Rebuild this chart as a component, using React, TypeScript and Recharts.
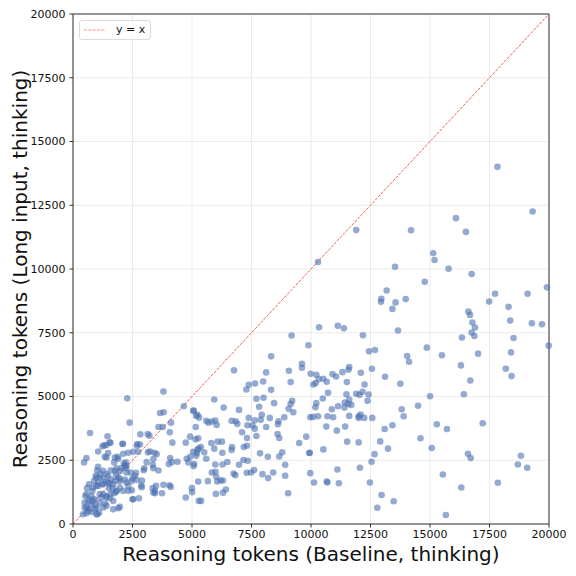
import {
  ScatterChart, Scatter, ReferenceLine, XAxis, YAxis, CartesianGrid, Legend,
} from 'recharts'

// [baseline tokens, long-input tokens], grouped by region
const lowCluster: [number, number][] = [
  [3800, 5195], [2280, 4930], [4655, 4620], [5050, 4435], [5230, 4280], [5300, 4170], [3660, 4355], [3810, 4380],
  [2380, 3975], [3590, 3805], [3770, 3805], [4120, 3975], [715, 3570], [1450, 3440], [2830, 3515], [3140, 3530],
  [3210, 3465], [4065, 3595], [4920, 3425], [4740, 3190], [5260, 3360], [1535, 3190], [1310, 3085], [2095, 3150],
  [2685, 3070], [2815, 3120], [3150, 2810], [3235, 2845], [3420, 2795], [4175, 3190], [1055, 2845], [1475, 2780],
  [1335, 2640], [2110, 2755], [2320, 2795], [2530, 2835], [2745, 2835], [1760, 2610], [1900, 2560], [565, 2585],
  [465, 2415], [4080, 2585], [4150, 2425], [4025, 2350], [3375, 2545], [3095, 2425], [3350, 2320], [3375, 2190],
  [3590, 2100], [4390, 2440], [4850, 2415], [2140, 2375], [2250, 2270], [2220, 2190], [2040, 2190], [1970, 2075],
  [1760, 2085], [1590, 2110], [1055, 2245], [1015, 2110], [1155, 1980], [985, 1825], [1265, 1795], [1475, 1890],
  [1590, 1745], [1800, 1930], [1900, 1825], [2250, 2020], [2420, 2020], [2645, 2005], [2505, 1785], [2670, 1730],
  [2970, 2110], [2995, 2180], [2895, 1705], [2870, 1510], [2885, 1445], [2250, 1625], [2320, 1495], [2475, 1325],
  [2505, 970], [1970, 670], [1900, 615], [1690, 905], [1730, 1205], [1520, 1405], [1660, 1405], [1405, 1100],
  [1350, 800], [1265, 1170], [1125, 1170], [985, 1495], [590, 1405], [815, 1300], [520, 1100], [705, 970],
  [845, 905], [930, 750], [985, 645], [660, 590], [775, 470], [1025, 380], [1095, 445], [565, 645],
  [490, 840], [885, 1690], [1055, 1625], [1240, 1560], [1380, 1665], [1520, 1585], [1760, 1690], [1970, 1680],
  [2180, 1745], [2460, 1690], [1970, 1430], [1830, 1270], [1545, 1010], [1125, 840], [1690, 575], [3350, 1405],
  [3445, 1300], [3800, 1535], [4050, 1520], [4105, 1455], [3740, 1205], [3445, 1205], [4740, 1035], [4995, 1405],
  [5385, 905], [5205, 2780], [4925, 2635], [5230, 2915], [1405, 3095], [1240, 3045], [1575, 3190], [2080, 3135],
  [1405, 2610], [1870, 2635], [1730, 2415], [2220, 2415], [1265, 2085], [955, 1890], [1125, 1825], [1405, 1955],
  [1830, 2180], [2180, 2285], [2600, 1890], [675, 1560], [845, 1430], [1055, 1495], [1265, 1560], [1475, 1625],
  [1690, 1560], [1970, 1760], [1830, 1300], [2110, 1300], [2320, 1300], [565, 1170], [775, 1100], [915, 970],
  [1195, 1035], [1405, 1035], [1575, 1170], [2530, 970], [2770, 1010], [490, 645], [635, 510], [915, 575],
  [985, 380], [1265, 645], [1405, 710], [420, 380], [3515, 2740], [3375, 1235], [3490, 1495], [2700, 3135],
  [560, 420], [760, 760], [640, 880],
]

const midRange: [number, number][] = [
  [9185, 7390], [9890, 7010], [8325, 6575], [6765, 6025], [8115, 5945], [9070, 6010], [7990, 5590], [9145, 5565],
  [7650, 5510], [7385, 5460], [7285, 5275], [8325, 5265], [7705, 4910], [8005, 4950], [5935, 4880], [8450, 4740],
  [7820, 4595], [9210, 4830], [9145, 4710], [9060, 4515], [9255, 4380], [6330, 4565], [6975, 4475], [7930, 4280],
  [5075, 4450], [5175, 4240], [5600, 4045], [5685, 3975], [5835, 4015], [5980, 4055], [6035, 3885], [6665, 4045],
  [6835, 4030], [6905, 3925], [7385, 4160], [7635, 4065], [7890, 4085], [8270, 4160], [8635, 4030], [8610, 3910],
  [8875, 4185], [5160, 3805], [7105, 3595], [7330, 3870], [7540, 3860], [7635, 3740], [8115, 3805], [8595, 3530],
  [8665, 3375], [7705, 3450], [7310, 3375], [7310, 3070], [7175, 3020], [5150, 3320], [5810, 3175], [6075, 3230],
  [6260, 3230], [5370, 3020], [5275, 2955], [5050, 2835], [5935, 2955], [5515, 2810], [6680, 3020], [6665, 2900],
  [6275, 2795], [5175, 2675], [4780, 2560], [5600, 2560], [5090, 2350], [5065, 2270], [5980, 2335], [6285, 2335],
  [6485, 2430], [6975, 2325], [7160, 2510], [7340, 2480], [7860, 2770], [8185, 2640], [8665, 2650], [8790, 2810],
  [8915, 2325], [9505, 3175], [9800, 3425], [9930, 2785], [5835, 2020], [5990, 2045], [6020, 1850], [6205, 1705],
  [6300, 1705], [6750, 1980], [6820, 1915], [7300, 2010], [7480, 2020], [7610, 2115], [7960, 1955], [8200, 1800],
  [8410, 2020], [8915, 1890], [5260, 1665], [5670, 1680], [6060, 1665], [6300, 1230], [6425, 1350], [6005, 1180],
  [5005, 1250], [5285, 905], [9040, 1205],
]

const upperMid: [number, number][] = [
  [12940, 8715], [13555, 8690], [13420, 8435], [10340, 7715], [11125, 7770], [11380, 7675], [12180, 7400], [13655, 7585],
  [12435, 6770], [12685, 6825], [9620, 6285], [9620, 6130], [11605, 6155], [11575, 6050], [9985, 5895], [10225, 5855],
  [10900, 5880], [11055, 5785], [11320, 5955], [12095, 5930], [12560, 6090], [13110, 5775], [10325, 5680], [10520, 5695],
  [10660, 5580], [10100, 5470], [10195, 5525], [11505, 5565], [12250, 5470], [10715, 5145], [11490, 5090], [11900, 5105],
  [12040, 5065], [12165, 5185], [12420, 5080], [10495, 4920], [11605, 4880], [12375, 4830], [10225, 4740], [10185, 4580],
  [11420, 4765], [11560, 4710], [11690, 4670], [10875, 4500], [11140, 4620], [11405, 4565], [9970, 4185], [10085, 4200],
  [10295, 4225], [10690, 4225], [10930, 4185], [11605, 4240], [12000, 4225], [12085, 4290], [12010, 4160], [12235, 4160],
  [12575, 4160], [10645, 3820], [11435, 3820], [11085, 3660], [13095, 3725], [13420, 3870], [10520, 2925], [11520, 3230],
  [12000, 3200], [12910, 3240], [13235, 2955], [9945, 2795], [12670, 2740], [12545, 2440], [12055, 2205], [11110, 2140],
  [9970, 1995], [10125, 1625], [10660, 1665], [10690, 1625], [11170, 1600], [12475, 1625], [12965, 1140], [13475, 895],
  [12785, 640], [11900, 11525], [10295, 10275], [13530, 10090], [13180, 9155], [12955, 8830],
]

const highRange: [number, number][] = [
  [17835, 14005], [19310, 12255], [16090, 11995], [14205, 11520], [16510, 11455], [15135, 10620], [15190, 10355], [15780, 10010],
  [16750, 9805], [14780, 9500], [19915, 9280], [17735, 9030], [19100, 9030], [13980, 8820], [17485, 8725], [18300, 8515],
  [16610, 8335], [16680, 8200], [18370, 7980], [16780, 7900], [19280, 7875], [19705, 7835], [16890, 7705], [16750, 7505],
  [16865, 7375], [16340, 7310], [18510, 7295], [19985, 6995], [14865, 6915], [18400, 6730], [14040, 6585], [15500, 6615],
  [17020, 6680], [14120, 6365], [16300, 6220], [18185, 6090], [18425, 5800], [16695, 5630], [13755, 5500], [16425, 5090],
  [15005, 5010], [14500, 4635], [13810, 4500], [13895, 4225], [15285, 3910], [15710, 3725], [17215, 3950], [14600, 3360],
  [15075, 2980], [16595, 2755], [16710, 2585], [18820, 2675], [18690, 2335], [19085, 2205], [15540, 1940], [17850, 1615],
  [16315, 1430], [15665, 355],
]

const axisTicks = [0, 2500, 5000, 7500, 10000, 12500, 15000, 17500, 20000]
const diagonal = [{ x: 0, y: 0 }, { x: 20000, y: 20000 }]

const data = [...lowCluster, ...midRange, ...upperMid, ...highRange].map(([baseline, longInput]) => ({
  baseline,
  longInput,
}))

const FONT = '"DejaVu Sans", sans-serif'
const tickStyle = { fontSize: 11, fill: '#111', fontFamily: FONT }

const Dot = (p: any) => <circle cx={p.cx} cy={p.cy} r={3.3} fill="#4C72B0" fillOpacity={0.6} />

const LegendBox = () => (
  <div
    style={{
      display: 'flex', alignItems: 'center', gap: 10, padding: '2px 5px 2px 4px',
      border: '1px solid #dcdcdc', borderRadius: 3, background: 'rgba(255,255,255,0.8)',
      fontFamily: FONT, fontSize: 11, color: '#111', lineHeight: '14px',
    }}
  >
    <svg width={22} height={6}>
      <line x1={0} y1={3} x2={22} y2={3} stroke="#ff0000" strokeOpacity={0.5} strokeWidth={0.9} strokeDasharray="3 1.3" />
    </svg>
    <span>y = x</span>
  </div>
)

export default function App() {
  return (
    <div style={{ position: 'absolute', left: 0, top: 0, background: '#fff' }}>
      <ScatterChart width={576} height={576} margin={{ top: 14, right: 27, bottom: 0, left: 0 }}>
        <CartesianGrid stroke="#e6e6e6" strokeWidth={0.8} />
        <XAxis
          type="number"
          dataKey="baseline"
          domain={[0, 20000]}
          ticks={axisTicks}
          interval={0}
          height={52}
          tick={tickStyle}
          tickSize={3.5}
          tickMargin={3}
          stroke="#333"
          label={{
            content: (p: any) => {
              const vb = p.viewBox ?? { x: 73, y: 524, width: 476 }
              return (
                <text x={vb.x + vb.width / 2} y={vb.y + 36.5} textAnchor="middle" fontSize={20} fontFamily={FONT} fill="#111">
                  Reasoning tokens (Baseline, thinking)
                </text>
              )
            },
          }}
        />
        <YAxis
          type="number"
          dataKey="longInput"
          domain={[0, 20000]}
          ticks={axisTicks}
          interval={0}
          width={73}
          tick={tickStyle}
          tickSize={3.5}
          tickMargin={4}
          stroke="#333"
          label={{
            content: (p: any) => {
              const vb = p.viewBox ?? { x: 0, y: 14, height: 510 }
              const cx = 27
              const cy = vb.y + vb.height / 2
              return (
                <text
                  x={cx}
                  y={cy}
                  transform={`rotate(-90, ${cx}, ${cy})`}
                  textAnchor="middle"
                  fontSize={20}
                  fontFamily={FONT}
                  fill="#111"
                >
                  Reasoning tokens (Long input, thinking)
                </text>
              )
            },
          }}
        />
        <ReferenceLine y={20000} stroke="#333" />
        <ReferenceLine x={20000} stroke="#333" />
        <Scatter data={data} shape={Dot} isAnimationActive={false} />
        <ReferenceLine
          segment={diagonal}
          stroke="#e8453c"
          strokeOpacity={0.85}
          strokeWidth={1}
          strokeDasharray="3 1.3"
        />
        <Legend
          layout="vertical"
          align="center"
          verticalAlign="middle"
          content={() => <LegendBox />}
          wrapperStyle={{ left: 79, top: 20, bottom: 'auto', right: 'auto', width: 'auto' }}
        />
      </ScatterChart>
    </div>
  )
}
